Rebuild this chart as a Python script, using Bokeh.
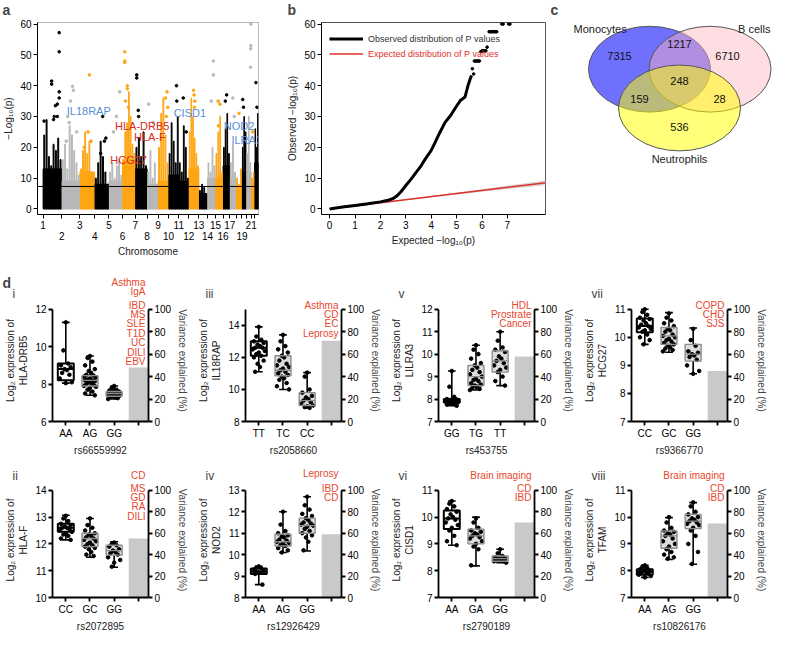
from bokeh.plotting import figure
from bokeh.models import (ColumnDataSource, Range1d, FixedTicker, LinearAxis, Label,
                          Span, Legend, LegendItem)
from bokeh.layouts import row, column
from bokeh.embed import file_html
from bokeh.resources import INLINE
from bokeh.core.properties import value

FONT = "Liberation Sans"

# ---------------- panel a data (Manhattan) ----------------
chrom_names = [str(i) for i in range(1, 23)]
chrom_len = [249, 243, 198, 191, 181, 171, 159, 146, 141, 136, 135, 134,
             115, 107, 102, 90, 83, 80, 59, 64, 47, 51]
chrom_color = ["black", "gray", "orange", "black", "gray", "orange", "black", "gray",
               "orange", "black", "black", "orange", "black", "gray", "orange", "black",
               "gray", "orange", "black", "gray", "orange", "black"]
chrom_base = [13, 9, 12, 8, 9, 16, 13, 8, 9, 11, 9, 13, 5, 10, 10, 14, 10, 6, 12, 12, 6, 15]
chrom_streaks = [
    [24, 29, 17, 14, 21, 19, 23, 16],
    [16, 21, 13, 27, 24, 19, 15, 11],
    [13, 19, 25, 18, 22, 12, 10],
    [10, 15, 22, 17, 12, 8],
    [12, 15, 10, 14, 16, 11],
    [16, 25, 28, 38, 30, 21, 18],
    [20, 23, 17, 25, 14],
    [12, 19, 10, 15, 8],
    [20, 31, 36, 24, 15],
    [18, 28, 22, 15, 30],
    [15, 12, 27, 20, 10],
    [25, 36, 30, 23, 18, 14],
    [6, 8, 7, 5],
    [15, 12, 20, 14],
    [18, 25, 30, 12],
    [20, 26, 31, 18],
    [15, 21, 12],
    [10, 8, 13],
    [20, 30, 25],
    [18, 30, 15],
    [10, 12],
    [26, 20, 31],
]
hit_pos = [
    [215, 215, 215, 215, 114, 114, 165, 150, 140, 13, 190, 190],
    [143, 156, 80, 118, 100, 60, 200],
    [128, 110, 150, 60],
    [107, 130, 150, 80],
    [144, 100, 60],
    [65, 65, 30, 30, 30, 40, 80],
    [20, 20, 40, 45],
    [20, 80],
    [120, 100, 130, 110],
    [106, 110],
    [60, 100],
    [63, 70, 80, 75],
    [],
    [79, 79, 50],
    [36, 60, 40],
    [48, 30],
    [40, 60],
    [40],
    [10, 20],
    [60, 60, 58, 55],
    [20],
    [17, 30],
]
hit_val = [
    [57.2, 51, 38, 36, 41.5, 40.5, 33.5, 30, 29, 28.5, 34, 30],
    [39.8, 38.5, 30, 35, 28, 22, 25],
    [43.5, 25, 22, 20],
    [30, 22, 23, 18],
    [38, 30, 25],
    [40, 39, 51, 48, 47.5, 35, 33],
    [43.5, 42.5, 32, 30],
    [34, 28],
    [38, 36, 33, 30],
    [40, 35],
    [36, 25],
    [38.5, 37, 35, 33],
    [],
    [48, 43.5, 35],
    [35, 34, 27],
    [37, 35],
    [36, 30],
    [31],
    [35.5, 33],
    [60, 53, 52, 46],
    [25],
    [41, 33],
]
axis_row1 = ["1", "3", "5", "7", "9", "11", "13", "15", "17", "21"]
axis_row2 = ["2", "4", "6", "8", "10", "12", "14", "16", "19"]
gwas_threshold = 7.3
gene_labels = ["IL18RAP", "HLA-DRB5", "HLA-F", "HCG27", "CISD1", "NOD2", "ILRA3"]
gene_label_kind = ["blue", "red", "red", "red", "blue", "blue", "blue"]

# ---------------- panel b data (QQ) ----------------
qq_exp_curve = [0, 0.5, 1.0, 1.5, 2.0, 2.3, 2.5, 2.63, 2.8, 3.0, 3.2, 3.42, 3.6, 3.75,
                4.0, 4.15, 4.32, 4.54, 4.77, 5.0, 5.16, 5.33, 5.44, 5.56, 5.6]
qq_obs_curve = [0, 0.6, 1.15, 1.7, 2.3, 2.8, 3.4, 4.1, 5.5, 7.6, 9.6, 12.0, 14.0, 16.0,
                19.0, 21.5, 24.5, 28.0, 30.4, 33.4, 35.3, 36.3, 39.8, 42.8, 43.3]
qq_exp_tail = [5.62, 5.67, 5.70, 5.74, 5.78, 5.82, 5.86, 5.90, 5.95, 6.0, 6.05, 6.1, 6.15,
               6.2, 6.28, 6.33, 6.38, 6.43, 6.48, 6.53, 6.58, 6.78, 6.83, 7.05, 7.1]
qq_obs_tail = [45.5, 43.8, 48, 48, 48, 48, 48, 48, 51, 51.3, 51.3, 51.3, 51.3,
               52.5, 57.5, 57.5, 57.5, 57.5, 57.5, 57.5, 57.5, 60, 60, 60, 60]
qq_expected = [0, 8.6]
ci_x = [0, 2, 4, 6, 8, 8.6]
ci_lo = [0, 1.9, 3.8, 5.6, 7.3, 7.8]
ci_hi = [0.1, 2.1, 4.2, 6.4, 8.7, 9.4]

# ---------------- panel c data (Venn) ----------------
venn_sets = ["Monocytes", "B cells", "Neutrophils"]
venn_counts = [7315, 1217, 6710, 248, 159, 28, 536]

# ---------------- panel d data ----------------
d_roman = ["i", "ii", "iii", "iv", "v", "vi", "vii", "viii"]
d_gene = ["HLA-DRB5", "HLA-F", "IL18RAP", "NOD2", "LILRA3", "CISD1", "HCG27", "TFAM"]
d_snp = ["rs66559992", "rs2072895", "rs2058660", "rs12926429", "rs453755", "rs2790189",
         "rs9366770", "rs10826176"]
d_geno = [["AA", "AG", "GG"], ["CC", "GC", "GG"], ["TT", "TC", "CC"], ["AA", "AG", "GG"],
          ["GG", "TG", "TT"], ["AA", "GA", "GG"], ["CC", "GC", "GG"], ["AA", "AG", "GG"]]
d_var = [48, 55, 72, 59, 58, 70, 45, 69]
d_diseases = [
    ["Asthma", "IgA", "IBD", "MS", "SLE", "T1D", "UC", "DILI", "EBV"],
    ["CD", "MS", "GD", "RA", "DILI"],
    ["Asthma", "CD", "EC", "Leprosy"],
    ["Leprosy", "IBD", "CD"],
    ["HDL", "Prostrate", "Cancer"],
    ["Brain imaging", "CD", "IBD"],
    ["COPD", "CHD", "SJS"],
    ["Brain imaging", "CD", "IBD"],
]
d_ylim = [(6, 12), (10, 14), (8, 15), (8, 13), (7, 12), (7, 11), (7, 11), (7, 11)]
d_yticks = [[6, 8, 10, 12], [10, 11, 12, 13, 14], [8, 10, 12, 14], [8, 9, 10, 11, 12, 13],
            [7, 8, 9, 10, 11, 12], [7, 8, 9, 10, 11], [7, 8, 9, 10, 11], [7, 8, 9, 10, 11]]
# [whisker low, q1, median, q3, whisker high] per genotype
d_box = [
    [[8.05, 8.2, 8.8, 9.1, 11.3], [7.4, 7.9, 8.2, 8.45, 9.5], [7.2, 7.35, 7.5, 7.6, 7.9]],
    [[12.15, 12.45, 12.6, 12.75, 13.07], [11.5, 11.9, 12.2, 12.4, 12.95], [11.13, 11.58, 11.75, 11.95, 12.08]],
    [[11.1, 12.1, 12.6, 13.0, 13.9], [10.0, 10.85, 11.2, 12.1, 13.4], [8.85, 9.0, 9.3, 9.8, 11.05]],
    [[8.6, 9.1, 9.2, 9.35, 9.45], [10.1, 10.4, 10.6, 10.95, 12.0], [10.17, 11.0, 11.35, 11.7, 12.7]],
    [[7.7, 7.85, 7.95, 8.0, 9.25], [8.4, 8.6, 9.0, 9.5, 10.4], [8.6, 9.2, 9.7, 10.15, 11.0]],
    [[8.95, 9.56, 9.95, 10.25, 10.6], [8.18, 9.0, 9.3, 9.55, 10.0], [8.3, 8.35, 8.45, 8.55, 8.8]],
    [[9.75, 10.18, 10.4, 10.67, 11.0], [9.47, 9.75, 10.05, 10.35, 10.88], [8.7, 9.15, 9.4, 9.75, 10.33]],
    [[7.75, 7.85, 7.95, 8.05, 8.2], [8.42, 8.84, 9.3, 9.48, 9.98], [8.24, 9.57, 9.85, 10.1, 10.54]],
]
d_points = [
    [[11.3, 9.8, 9.1, 9.0, 8.9, 8.8, 8.75, 8.6, 8.5, 8.3, 8.1, 8.05],
     [9.5, 9.4, 9.2, 9.0, 8.8, 8.7, 8.6, 8.5, 8.45, 8.4, 8.35, 8.3, 8.25, 8.2, 8.2, 8.15,
      8.1, 8.05, 8.0, 7.95, 7.9, 7.85, 7.8, 7.7, 7.6, 7.5, 7.4],
     [7.9, 7.8, 7.7, 7.65, 7.6, 7.6, 7.55, 7.55, 7.5, 7.5, 7.5, 7.45, 7.45, 7.4, 7.4, 7.35,
      7.35, 7.3, 7.3, 7.25, 7.2]],
    [[13.05, 12.95, 12.85, 12.75, 12.7, 12.65, 12.6, 12.6, 12.55, 12.5, 12.45, 12.4, 12.35,
      12.3, 12.2, 12.15],
     [12.95, 12.7, 12.6, 12.5, 12.4, 12.35, 12.3, 12.25, 12.2, 12.15, 12.1, 12.05, 12.0,
      11.95, 11.9, 11.85, 11.8, 11.7, 11.6, 11.55],
     [12.05, 12.0, 11.95, 11.9, 11.8, 11.75, 11.7, 11.65, 11.6, 11.5, 11.4, 11.3, 11.15]],
    [[13.9, 13.3, 13.1, 13.0, 12.9, 12.8, 12.7, 12.6, 12.6, 12.5, 12.4, 12.3, 12.2, 12.1,
      12.0, 11.8, 11.6, 11.4, 11.1],
     [13.4, 13.0, 12.7, 12.5, 12.3, 12.1, 12.0, 11.8, 11.6, 11.5, 11.4, 11.3, 11.2, 11.1,
      11.0, 10.9, 10.8, 10.7, 10.6, 10.4, 10.2, 10.0],
     [11.05, 10.8, 10.0, 9.8, 9.6, 9.5, 9.4, 9.3, 9.2, 9.1, 9.0, 8.95, 8.9, 8.85]],
    [[9.45, 9.4, 9.35, 9.3, 9.25, 9.2, 9.15, 9.1, 8.6],
     [12.0, 11.4, 11.1, 11.0, 10.9, 10.85, 10.8, 10.7, 10.65, 10.6, 10.55, 10.5, 10.45,
      10.4, 10.3, 10.2, 10.1],
     [12.7, 12.3, 12.1, 11.9, 11.8, 11.7, 11.6, 11.5, 11.45, 11.4, 11.35, 11.3, 11.2, 11.1,
      11.0, 10.9, 10.8, 10.6, 10.2]],
    [[9.25, 8.55, 8.1, 8.0, 7.98, 7.95, 7.95, 7.92, 7.9, 7.88, 7.85, 7.82, 7.8, 7.78, 7.75, 7.7],
     [10.4, 10.2, 10.0, 9.8, 9.6, 9.5, 9.4, 9.3, 9.2, 9.1, 9.0, 8.9, 8.85, 8.8, 8.7, 8.65,
      8.6, 8.55, 8.5, 8.45, 8.4],
     [11.0, 10.6, 10.3, 10.2, 10.1, 9.9, 9.8, 9.7, 9.6, 9.5, 9.4, 9.3, 9.2, 9.0, 8.8, 8.6]],
    [[10.6, 10.5, 10.4, 10.3, 10.2, 10.1, 10.0, 9.95, 9.9, 9.8, 9.7, 9.6, 9.5, 9.3, 9.1, 8.95],
     [9.95, 9.8, 9.6, 9.5, 9.45, 9.4, 9.35, 9.3, 9.25, 9.2, 9.1, 9.0, 8.9, 8.8, 8.2],
     [8.8, 8.65, 8.55, 8.5, 8.45, 8.45, 8.4, 8.4, 8.35, 8.35, 8.3]],
    [[11.0, 10.9, 10.8, 10.7, 10.65, 10.6, 10.5, 10.45, 10.4, 10.35, 10.3, 10.25, 10.2,
      10.1, 10.0, 9.9, 9.75],
     [10.85, 10.7, 10.6, 10.5, 10.4, 10.3, 10.25, 10.2, 10.1, 10.05, 10.0, 9.95, 9.9, 9.85,
      9.8, 9.75, 9.7, 9.65, 9.6, 9.55, 9.5],
     [10.3, 9.9, 9.7, 9.5, 9.45, 9.4, 9.35, 9.3, 9.2, 9.0, 8.8, 8.7]],
    [[8.2, 8.15, 8.1, 8.05, 8.0, 7.98, 7.95, 7.92, 7.9, 7.85, 7.8, 7.75],
     [10.0, 9.8, 9.6, 9.5, 9.45, 9.4, 9.35, 9.3, 9.2, 9.1, 9.0, 8.9, 8.8, 8.7, 8.6, 8.5, 8.45],
     [10.55, 10.4, 10.2, 10.1, 10.0, 9.95, 9.9, 9.85, 9.8, 9.75, 9.7, 9.6, 9.5, 9.3, 9.0,
      8.7, 8.25]],
]

# ---------------- styles ----------------
COLORS = {"black": "#000000", "gray": "#b8b8b8", "orange": "#ffa514"}
LABEL_COLORS = {"blue": "#5a8ed6", "red": "#d92a20"}
DISEASE_COLOR = "#e8462e"
TOTAL_W = 772


def style_axis(ax, size="10px", width=1.0):
    ax.axis_line_width = width
    ax.axis_line_color = "black"
    ax.major_tick_line_width = width
    ax.major_tick_line_color = "black"
    ax.major_tick_out = 4
    ax.major_tick_in = 0
    ax.minor_tick_line_color = None
    ax.major_label_text_font = FONT
    ax.major_label_text_font_size = size
    ax.major_label_text_color = "black"
    ax.axis_label_text_font = FONT
    ax.axis_label_text_font_size = size
    ax.axis_label_text_font_style = "normal"
    ax.axis_label_text_color = "#222222"
    ax.major_label_standoff = 2
    ax.axis_label_standoff = 3


def text_strip(height):
    s = figure(width=TOTAL_W, height=height, x_range=Range1d(0, TOTAL_W), y_range=Range1d(0, height),
               output_backend="svg", toolbar_location=None, min_border=0)
    s.axis.visible = False
    s.grid.visible = False
    s.outline_line_color = None
    return s


# ================= top header strip (panel letters) =================
TOP_HDR = 17
hdr0 = text_strip(TOP_HDR)
for t, lx in zip(["a", "b", "c"], [2, 287, 550]):
    hdr0.add_layout(Label(x=lx, y=TOP_HDR - 1, text=t, text_font=FONT, text_font_size="14px",
                          text_font_style="bold", text_baseline="top"))

# ================= panel a =================
starts = []
acc = 0
for L in chrom_len:
    starts.append(acc)
    acc += L
total_len = acc

TOP_H = 272 - TOP_HDR
A_W, A_T, A_B, A_L, A_R = 262, 5, 57, 36, 4
pa = figure(width=A_W, height=TOP_H, x_range=Range1d(-75, total_len), y_range=Range1d(-1.8, 60.5),
            output_backend="svg", toolbar_location=None, min_border_left=A_L,
            min_border_right=A_R, min_border_top=A_T, min_border_bottom=A_B)
pa.grid.visible = False
pa.outline_line_color = "#b8b8b8"

pa.vbar(x=[s + L / 2 for s, L in zip(starts, chrom_len)], width=chrom_len, top=chrom_base,
        bottom=0, color=[COLORS[c] for c in chrom_color])

sx, sw, st, sc = [], [], [], []
for s, L, hs, c in zip(starts, chrom_len, chrom_streaks, chrom_color):
    n = len(hs)
    for k, h in enumerate(hs):
        sx.append(s + (k + 0.5) * L / n)
        sw.append(L / n * 0.4)
        st.append(h)
        sc.append(COLORS[c])
pa.vbar(x=sx, width=sw, top=st, bottom=0, color=sc)

hx, hy, hc = [], [], []
for s, ps, vs, c in zip(starts, hit_pos, hit_val, chrom_color):
    for pp, vv in zip(ps, vs):
        hx.append(s + pp)
        hy.append(vv)
        hc.append(COLORS[c])
pa.scatter(hx, hy, size=2.6, color=hc)

pa.add_layout(Span(location=gwas_threshold, dimension="width", line_color="black", line_width=1))

style_axis(pa.yaxis[0])
pa.yaxis.ticker = FixedTicker(ticks=[0, 10, 20, 30, 40, 50, 60])
pa.yaxis.axis_label = "\u2212Log\u2081\u2080(p)"
style_axis(pa.xaxis[0])
pa.xaxis.ticker = FixedTicker(ticks=starts)
pa.xaxis.major_label_overrides = {s: (n if n in axis_row1 else "") for s, n in zip(starts, chrom_names)}
ax2_ticks = [starts[chrom_names.index(n)] for n in axis_row2]
ax2 = LinearAxis(ticker=FixedTicker(ticks=ax2_ticks),
                 major_label_overrides={t: n for t, n in zip(ax2_ticks, axis_row2)},
                 axis_label="Chromosome")
style_axis(ax2)
ax2.axis_line_color = None
ax2.major_tick_line_color = None
ax2.major_tick_out = 0
ax2.major_label_standoff = 0
pa.add_layout(ax2, "below")

gene_x = [316, 962, 1215, 899, 1747, 2418, 2520]
gene_y = [31.8, 27.0, 23.2, 15.9, 31.2, 26.8, 22.4]
for t, k, gx_, gy_ in zip(gene_labels, gene_label_kind, gene_x, gene_y):
    pa.add_layout(Label(x=gx_, y=gy_, text=t, text_color=LABEL_COLORS[k], text_font=FONT,
                        text_font_size="11px", text_baseline="middle", text_align="left"))

# ================= panel b =================
B_W, B_T, B_B, B_L, B_R = 286, 5, 58, 59, 3
pb = figure(width=B_W, height=TOP_H, x_range=Range1d(-0.32, 8.5), y_range=Range1d(-1.8, 60.5),
            output_backend="svg", toolbar_location=None, min_border_left=B_L,
            min_border_right=B_R, min_border_top=B_T, min_border_bottom=B_B)
pb.grid.visible = False
pb.outline_line_color = "#555555"
pb.varea(x=ci_x, y1=ci_lo, y2=ci_hi, fill_color="#c8c8c8", fill_alpha=0.8)
exp_r = pb.line(qq_expected, qq_expected, line_color="#e0302a", line_width=1.6)
obs_r = pb.line(qq_exp_curve, qq_obs_curve, line_color="black", line_width=3)
pb.scatter(qq_exp_tail, qq_obs_tail, size=2.6, color="black")
style_axis(pb.xaxis[0])
style_axis(pb.yaxis[0])
pb.xaxis.ticker = FixedTicker(ticks=[0, 1, 2, 3, 4, 5, 6, 7])
pb.yaxis.ticker = FixedTicker(ticks=[0, 10, 20, 30, 40, 50, 60])
pb.xaxis.axis_label = "Expected \u2212log\u2081\u2080(p)"
pb.yaxis.axis_label = "Observed \u2212log\u2081\u2080(p)"
B_FH = TOP_H - B_T - B_B
for lab, rend, col, yoff in [("Observed distribution of P values", obs_r, "#333333", 23),
                             ("Expected distribution of P values", exp_r, "#e0302a", 38)]:
    lg = Legend(items=[LegendItem(label=lab, renderers=[rend])], location=(8, B_FH - yoff),
                padding=0, margin=0, spacing=0, label_height=13, glyph_height=13,
                glyph_width=34, label_standoff=5, border_line_color=None,
                background_fill_alpha=0, label_text_font=FONT, label_text_font_size="9px",
                label_text_color=col)
    pb.add_layout(lg)

# ================= panel c =================
C_W = TOTAL_W - A_W - B_W
pc = figure(width=C_W, height=TOP_H, x_range=Range1d(0, C_W), y_range=Range1d(0, TOP_H),
            output_backend="svg", toolbar_location=None, min_border=0)
pc.axis.visible = False
pc.grid.visible = False
pc.outline_line_color = None
venn_cx = [101, 161.5, 131]
venn_cy = [TOP_H - 62, TOP_H - 62, TOP_H - 113.5]
venn_fill = ["#0000ff", "#ffb6c1", "#ffff00"]
venn_alpha = [0.56, 0.45, 0.52]
for cx, cy, fc, fa in zip(venn_cx, venn_cy, venn_fill, venn_alpha):
    pc.ellipse(x=[cx], y=[cy], width=122, height=114, fill_color=fc, fill_alpha=fa,
               line_color="#555555", line_width=1)
cnt_x = [71, 131, 179, 131, 91, 171, 131]
cnt_y = [TOP_H - 44, TOP_H - 28, TOP_H - 44, TOP_H - 78, TOP_H - 101, TOP_H - 101, TOP_H - 139]
pc.text(x=cnt_x, y=cnt_y, text=[str(v) for v in venn_counts], text_align="center",
        text_baseline="middle", text_font=value(FONT), text_font_size="11px", text_color="#111111")
name_x = [25, C_W - 2, 131]
name_y = [TOP_H - 9, TOP_H - 9, TOP_H - 181]
name_align = ["left", "right", "center"]
for t, nx, ny, al in zip(venn_sets, name_x, name_y, name_align):
    pc.add_layout(Label(x=nx, y=ny, text=t, text_align=al, text_baseline="middle",
                        text_font=FONT, text_font_size="11px", text_color="#222222"))

# ================= panel d =================
D_W, D_L, D_R, D_BOT = 193, 52, 45, 34
SPREAD = [0, -0.1, 0.1, -0.2, 0.2, -0.05, 0.05, -0.15, 0.15, -0.25, 0.25]
LINE_STEP = 9.4
X_END = 4.42
# layout of the disease-text blocks (top of first line, px below row top)
d_text_start = [4, 11, 28, 9, 28, 11, 28, 11]


def line_tops(n, start, hh):
    tops, t = [], start
    for _ in range(n):
        if t < hh + 3 and t + LINE_STEP + 1 > hh:
            t = hh + 3
        tops.append(t)
        t += LINE_STEP
    return tops


def d_panel(i, height, spine_off, hdr, hh, col):
    ylo, yhi = d_ylim[i]
    fh = height - D_BOT
    span = fh - spine_off
    y_top = yhi + (yhi - ylo) * spine_off / span
    v_top = 100 + 100 * spine_off / span
    p = figure(width=D_W, height=height, x_range=Range1d(0.45, X_END), y_range=Range1d(ylo, y_top),
               output_backend="svg", toolbar_location=None, min_border_left=D_L,
               min_border_right=D_R, min_border_top=0, min_border_bottom=D_BOT)
    p.grid.visible = False
    p.outline_line_color = None
    p.extra_y_ranges = {"var": Range1d(0, v_top)}
    p.vbar(x=[4], width=0.8, top=[d_var[i]], bottom=0, y_range_name="var",
           fill_color="#c9c9c9", line_color=None)

    stats = d_box[i]
    gx = [1, 2, 3]
    src = ColumnDataSource(dict(
        x=gx, l=[x - 0.33 for x in gx], r=[x + 0.33 for x in gx],
        cl=[x - 0.16 for x in gx], cr=[x + 0.16 for x in gx],
        lo=[s[0] for s in stats], q1=[s[1] for s in stats], med=[s[2] for s in stats],
        q3=[s[3] for s in stats], hi=[s[4] for s in stats],
        lc=["black", "#8c8c8c", "#8c8c8c"], fc=["white", "#dcdcdc", "#dcdcdc"],
        lw=[2.0, 1.4, 1.4]))
    p.quad(left="l", right="r", bottom="q1", top="q3", fill_color="fc", line_color=None, source=src)
    p.segment(x0="x", y0="lo", x1="x", y1="q1", line_color="black", line_width=1.6, source=src)
    p.segment(x0="x", y0="q3", x1="x", y1="hi", line_color="black", line_width=1.6, source=src)
    p.segment(x0="cl", y0="lo", x1="cr", y1="lo", line_color="black", line_width=1.6, source=src)
    p.segment(x0="cl", y0="hi", x1="cr", y1="hi", line_color="black", line_width=1.6, source=src)
    px, py = [], []
    for g, pts in zip(gx, d_points[i]):
        for k, v in enumerate(pts):
            px.append(g + SPREAD[k % len(SPREAD)])
            py.append(v)
    p.scatter(px, py, size=3.6, color="black")
    p.quad(left="l", right="r", bottom="q1", top="q3", fill_alpha=0, line_color="lc",
           line_width="lw", source=src)
    p.segment(x0="l", y0="med", x1="r", y1="med", line_color="lc", line_width="lw", source=src)

    style_axis(p.yaxis[0], width=1.8)
    p.yaxis.ticker = FixedTicker(ticks=d_yticks[i])
    p.yaxis.bounds = (ylo, yhi)
    p.yaxis.axis_label = "Log\u2082 expression of\n" + d_gene[i]
    style_axis(p.xaxis[0], width=1.8)
    p.xaxis.ticker = FixedTicker(ticks=[1, 2, 3, 4])
    p.xaxis.major_label_overrides = {1: d_geno[i][0], 2: d_geno[i][1], 3: d_geno[i][2], 4: ""}
    p.xaxis.axis_label = d_snp[i]
    ra = LinearAxis(y_range_name="var", ticker=FixedTicker(ticks=[0, 20, 40, 60, 80, 100]),
                    axis_label="Variance explained (%)", bounds=(0, 100))
    style_axis(ra, width=1.8)
    ra.axis_label_text_color = "#444444"
    p.add_layout(ra, "right")

    x_right_hdr = col * D_W + D_L + 96 - 3
    tops = line_tops(len(d_diseases[i]), d_text_start[i], hh)
    for t, top in zip(d_diseases[i], tops):
        if top < hh:
            hdr.add_layout(Label(x=x_right_hdr, y=hh - top, text=t, text_align="right",
                                 text_baseline="top", text_font=FONT, text_font_size="10px",
                                 text_color=DISEASE_COLOR))
        else:
            p.add_layout(Label(x=X_END, y=fh - (top - hh), y_units="screen", x_offset=-3, text=t,
                               text_align="right", text_baseline="top", text_font=FONT,
                               text_font_size="10px", text_color=DISEASE_COLOR))
    return p


ROW1_H, ROW2_H = 186, 176
HDR1, HDR2 = 27, 24
hdr1 = text_strip(HDR1)
hdr2 = text_strip(HDR2)
hdr1.add_layout(Label(x=2, y=HDR1 - 2, text="d", text_font=FONT, text_font_size="14px",
                      text_font_style="bold", text_baseline="top"))
row1_ids = [0, 2, 4, 6]
row2_ids = [1, 3, 5, 7]
row1 = [d_panel(i, ROW1_H - HDR1, 10, hdr1, HDR1, c) for c, i in enumerate(row1_ids)]
row2 = [d_panel(i, ROW2_H - HDR2, 8, hdr2, HDR2, c) for c, i in enumerate(row2_ids)]
for c, i in enumerate(row1_ids):
    hdr1.add_layout(Label(x=c * D_W + 12, y=HDR1 - 14, text=d_roman[i], text_font=FONT,
                          text_font_size="12px", text_baseline="top"))
for c, i in enumerate(row2_ids):
    hdr2.add_layout(Label(x=c * D_W + 12, y=HDR2 - 10, text=d_roman[i], text_font=FONT,
                          text_font_size="12px", text_baseline="top"))

layout = column(hdr0, row(pa, pb, pc), hdr1, row(*row1), hdr2, row(*row2))
open("out.html", "w").write(file_html(layout, INLINE))
